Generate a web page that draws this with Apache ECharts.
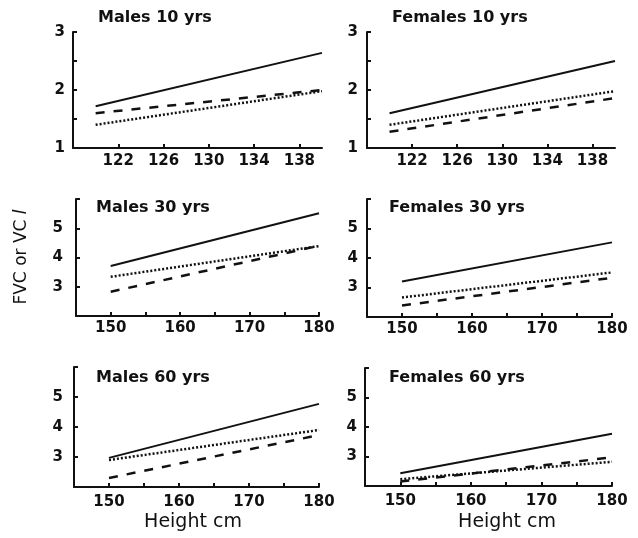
<!DOCTYPE html>
<html><head><meta charset="utf-8">
<script src="https://cdn.jsdelivr.net/npm/echarts@6/dist/echarts.min.js"></script>
<style>html,body{margin:0;padding:0;background:#fff}#c{width:638px;height:538px}</style>
</head><body><div id="c"></div>
<script>
// ---- data ----
const panelTitles = ['Males 10 yrs','Females 10 yrs','Males 30 yrs','Females 30 yrs','Males 60 yrs','Females 60 yrs'];
const heightsChild = [120, 140];
const heightsAdult = [150, 180];
const childTickLabels = [122, 126, 130, 134, 138];
const adultTickLabels = [150, 160, 170, 180];
const adultTicks = [145, 150, 155, 160, 165, 170, 175, 180];
const childYLabels = [1, 2, 3];
const childYTicks = [1, 1.5, 2, 2.5, 3];
const adultYLabels = [3, 4, 5];
const adultYTicks = [2, 3, 4, 5, 6];

const maleSolid10 = [1.72, 2.64];
const maleDashed10 = [1.60, 2.00];
const maleDotted10 = [1.40, 1.98];
const femaleSolid10 = [1.60, 2.50];
const femaleDashed10 = [1.28, 1.86];
const femaleDotted10 = [1.40, 1.98];
const maleSolid30 = [3.71, 5.51];
const maleDashed30 = [2.83, 4.40];
const maleDotted30 = [3.34, 4.39];
const femaleSolid30 = [3.20, 4.53];
const femaleDashed30 = [2.39, 3.33];
const femaleDotted30 = [2.66, 3.51];
const maleSolid60 = [2.97, 4.77];
const maleDashed60 = [2.30, 3.73];
const maleDotted60 = [2.90, 3.90];
const femaleSolid60 = [2.43, 3.77];
const femaleDashed60 = [2.15, 2.97];
const femaleDotted60 = [2.23, 2.82];

// ---- layout ----
const INK = '#111';
const grids = [
  {left: 73, top: 32, width: 249, height: 116},
  {left: 367, top: 32, width: 248, height: 116},
  {left: 76, top: 199, width: 243, height: 117},
  {left: 367, top: 199, width: 245, height: 118},
  {left: 74, top: 367, width: 245, height: 120},
  {left: 365, top: 368, width: 247, height: 118}
];
const yMargins = [8, 9, 13, 9, 11, 8];
const xMargins = [6, 6, 5, 5, 8, 8];
const titlePos = [[98, 10], [392, 10], [96, 200], [389, 200], [96, 370], [389, 370]];

const panelSeries = [
  [maleSolid10, maleDashed10, maleDotted10],
  [femaleSolid10, femaleDashed10, femaleDotted10],
  [maleSolid30, maleDashed30, maleDotted30],
  [femaleSolid30, femaleDashed30, femaleDotted30],
  [maleSolid60, maleDashed60, maleDotted60],
  [femaleSolid60, femaleDashed60, femaleDotted60]
];

const tickFont = {color: INK, fontFamily: 'DejaVu Sans', fontWeight: 'bold', fontSize: 15};
const xAxes = [], yAxes = [], series = [], titles = [];
for (let i = 0; i < 6; i++) {
  const child = i < 2;
  xAxes.push({
    type: 'value', gridIndex: i,
    min: child ? 118 : 145, max: child ? 140 : 180,
    splitLine: {show: false},
    axisLine: {show: true, lineStyle: {color: INK, width: 2}},
    axisTick: {show: true, inside: true, length: 4, lineStyle: {color: INK, width: 2},
      customValues: child ? childTickLabels : adultTicks},
    axisLabel: Object.assign({margin: xMargins[i], customValues: child ? childTickLabels : adultTickLabels}, tickFont)
  });
  yAxes.push({
    type: 'value', gridIndex: i,
    min: child ? 1 : 2, max: child ? 3 : 6,
    splitLine: {show: false},
    axisLine: {show: true, lineStyle: {color: INK, width: 2}},
    axisTick: {show: true, inside: true, length: 4, lineStyle: {color: INK, width: 2},
      customValues: child ? childYTicks : adultYTicks},
    axisLabel: Object.assign({margin: yMargins[i], customValues: child ? childYLabels : adultYLabels}, tickFont)
  });
  const xs = child ? heightsChild : heightsAdult;
  const styles = [
    {width: 2, type: 'solid'},
    {width: 2.5, type: [9, 9]},
    {width: 2.5, type: [2, 2]}
  ];
  panelSeries[i].forEach((vals, k) => {
    series.push({
      type: 'line', xAxisIndex: i, yAxisIndex: i,
      data: xs.map((x, j) => [x, vals[j]]),
      showSymbol: false, silent: true,
      lineStyle: Object.assign({color: INK}, styles[k])
    });
  });
  titles.push({
    text: panelTitles[i], left: titlePos[i][0], top: titlePos[i][1], padding: 0,
    textStyle: {color: INK, fontFamily: 'DejaVu Sans', fontWeight: 'bold', fontSize: 16}
  });
}

const chart = echarts.init(document.getElementById('c'), null, {renderer: 'canvas'});
chart.setOption({
  animation: false,
  backgroundColor: '#fff',
  title: titles,
  grid: grids,
  xAxis: xAxes,
  yAxis: yAxes,
  series: series,
  graphic: [
    {type: 'text', x: 22, y: 257, rotation: Math.PI / 2,
      style: {text: '{a|FVC or VC }{b|l}', align: 'center', verticalAlign: 'middle',
        rich: {a: {fontFamily: 'DejaVu Sans', fontSize: 17, fill: INK, color: INK},
               b: {fontFamily: 'DejaVu Sans', fontSize: 17, fontStyle: 'italic', fill: INK, color: INK}}}},
    {type: 'text', x: 193, y: 522,
      style: {text: 'Height cm', align: 'center', verticalAlign: 'middle', fontFamily: 'DejaVu Sans', fontSize: 19, fill: INK}},
    {type: 'text', x: 507, y: 522,
      style: {text: 'Height cm', align: 'center', verticalAlign: 'middle', fontFamily: 'DejaVu Sans', fontSize: 19, fill: INK}}
  ]
});
</script></body></html>
